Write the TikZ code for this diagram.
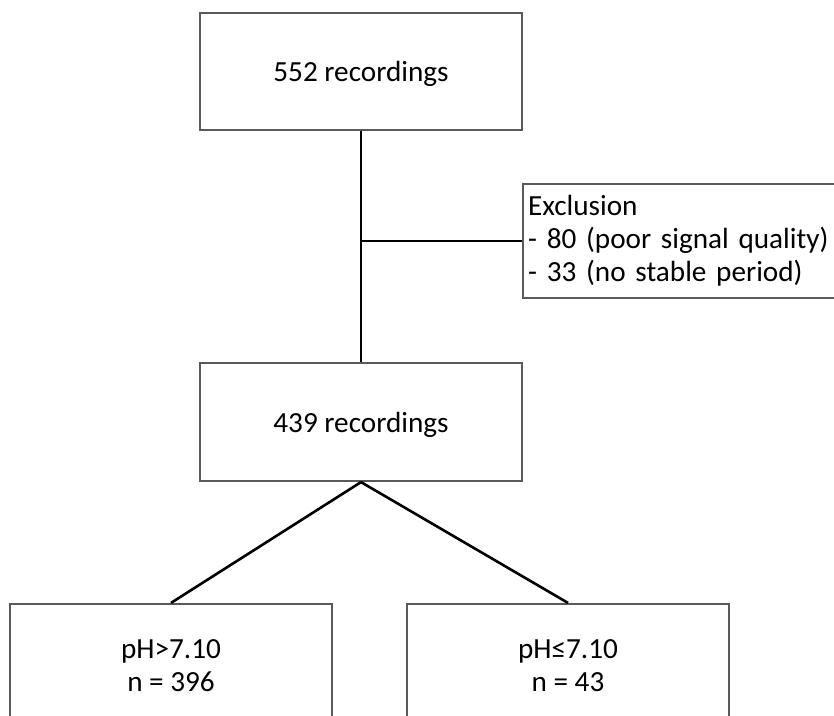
\documentclass[tikz,border=0pt]{standalone}
\usepackage{fontspec}
\setmainfont{Carlito}
\begin{document}
\begin{tikzpicture}[x=1pt,y=-1pt,
  box/.style={draw=black!65, line width=2.2pt, fill=white, minimum width=322pt, inner sep=0pt, align=center,
    font=\fontsize{29.2}{33}\selectfont},
  conn/.style={draw=black, line width=2.6pt}]
\useasboundingbox (0,0) rectangle (834,715);
\clip (0,0) rectangle (834,715);
\node[box, minimum height=117pt, text depth=0pt] (top) at (361,71.5) {552 recordings};
\node[box, minimum height=118pt, text depth=0pt] (mid) at (361,422) {439 recordings};
\node[box, minimum width=328pt, minimum height=114pt, anchor=west, align=left, text width=318pt, inner xsep=5pt] (excl) at (522,241) {Exclusion\\- 80 (poor signal quality)\\- 33 (no stable period)};
\node[box, minimum height=124pt] (left) at (171,666) {pH>7.10\\n = 396};
\node[box, minimum height=124pt] (right) at (568,666) {pH≤7.10\\n = 43};
\coordinate (j) at (361,241);
\draw[conn] (top.south) -- (mid.north);
\draw[conn] (j) -- (excl.west);
\draw[conn] (mid.south) -- (left.north);
\draw[conn] (mid.south) -- (right.north);
\end{tikzpicture}
\end{document}
